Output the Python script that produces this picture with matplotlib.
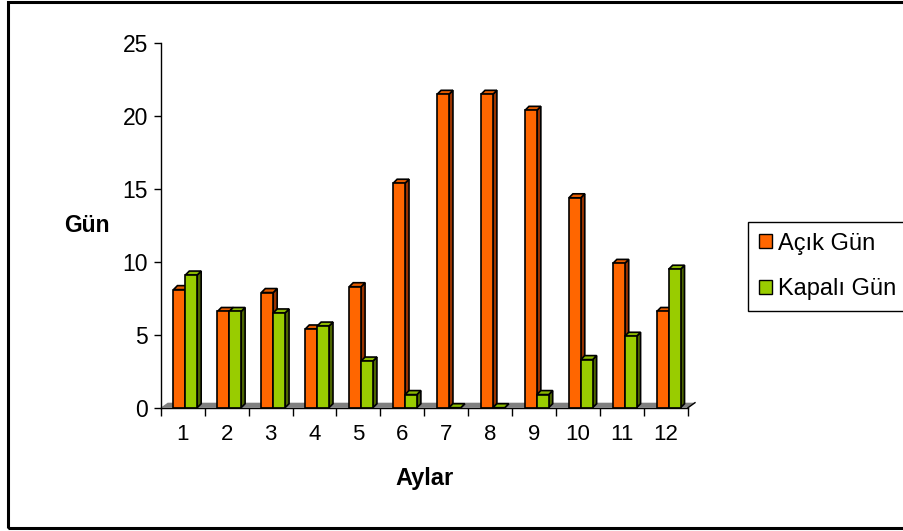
import matplotlib
matplotlib.use("Agg")
import matplotlib.pyplot as plt
from matplotlib.patches import Polygon, Rectangle, Patch
from matplotlib.lines import Line2D

months = ["1", "2", "3", "4", "5", "6", "7", "8", "9", "10", "11", "12"]
acik_gun = [8.1, 6.6, 7.9, 5.4, 8.3, 15.4, 21.5, 21.5, 20.4, 14.4, 9.9, 6.6]
kapali_gun = [9.1, 6.6, 6.5, 5.6, 3.2, 0.9, 0.0, 0.0, 0.9, 3.3, 4.9, 9.5]
y_ticks = [0, 5, 10, 15, 20, 25]
series_names = ["Açık Gün", "Kapalı Gün"]

plt.rcParams['font.family'] = ['Liberation Sans', 'DejaVu Sans']

W, H = 904, 531
fig = plt.figure(figsize=(W / 100, H / 100), dpi=100)
ax_l, ax_r, ax_t, ax_b = 160.7, 688.0, 43.3, 407.7
ax = fig.add_axes([ax_l / W, (H - ax_b) / H, (ax_r - ax_l) / W, (ax_b - ax_t) / H])
ax.set_xlim(-0.5, len(months) - 0.5)
ax.set_ylim(0, 25)

px_x = (len(months)) / (ax_r - ax_l)   # data units per pixel (x)
px_y = 25.0 / (ax_b - ax_t)            # data units per pixel (y)

front = ["#FF6600", "#99CC00"]
side = ["#993300", "#4D6600"]
top = ["#E65C00", "#8AB800"]

# floor
fdx, fdy = 7 * px_x, 5 * px_y
floor = Polygon([(-0.5, 0), (len(months) - 0.5, 0), (len(months) - 0.5 + fdx, fdy), (-0.5 + fdx, fdy)],
                closed=True, facecolor="#808080", edgecolor="none", clip_on=False, zorder=1)
ax.add_patch(floor)
ax.add_line(Line2D([len(months) - 0.5, len(months) - 0.5 + fdx], [0, fdy], color="black", lw=1, clip_on=False, zorder=1.5))

width = 0.27
offset = 0.06
bdx, bdy = 4 * px_x, 4 * px_y
for s, vals in enumerate([acik_gun, kapali_gun]):
    xs = [i + offset + (s - 0.5) * width for i in range(len(months))]
    bars = ax.bar(xs, vals, width=width, color=front[s], edgecolor="black", linewidth=1.2, zorder=3 + s * 0.5)
    for b in bars:
        x0, y0, w, h = b.get_x(), b.get_y(), b.get_width(), b.get_height()
        sp = Polygon([(x0 + w, y0), (x0 + w + bdx, y0 + bdy), (x0 + w + bdx, y0 + h + bdy), (x0 + w, y0 + h)],
                     closed=True, facecolor=side[s], edgecolor="black", linewidth=1.2, zorder=2.9 + s * 0.5, clip_on=False)
        tp = Polygon([(x0, y0 + h), (x0 + bdx, y0 + h + bdy), (x0 + w + bdx, y0 + h + bdy), (x0 + w, y0 + h)],
                     closed=True, facecolor=top[s], edgecolor="black", linewidth=1.2, zorder=2.9 + s * 0.5, clip_on=False)
        ax.add_patch(sp)
        ax.add_patch(tp)

for sname in ["top", "right"]:
    ax.spines[sname].set_visible(False)
for sname in ["left", "bottom"]:
    ax.spines[sname].set_color("black")
    ax.spines[sname].set_linewidth(1)
    ax.spines[sname].set_zorder(5)

ax.set_yticks(y_ticks)
ax.set_yticklabels([str(t) for t in y_ticks], fontsize=16.5)
ax.tick_params(axis="y", direction="out", length=5, width=1, pad=4)
ax.set_xticks(range(len(months)))
ax.set_xticklabels(months, fontsize=16)
ax.set_xticks([i - 0.5 for i in range(len(months) + 1)], minor=True)
ax.tick_params(axis="x", which="major", length=0, pad=12)
ax.tick_params(axis="x", which="minor", direction="out", length=6, width=1)

fig.text(87 / W, 1 - 225 / H, "Gün", fontsize=16.5, fontweight="bold", ha="center", va="center")
fig.text(425 / W, 1 - 478 / H, "Aylar", fontsize=17, fontweight="bold", ha="center", va="center")

handles = [Patch(facecolor=front[0], edgecolor="black", linewidth=1),
           Patch(facecolor=front[1], edgecolor="black", linewidth=1)]
leg = fig.legend(handles, series_names, loc="upper left", bbox_to_anchor=(748 / W, 1 - 222 / H),
                 fontsize=17, frameon=True, fancybox=False, edgecolor="black", framealpha=1,
                 handlelength=0.55, handleheight=0.55, handletextpad=0.25, labelspacing=1.0,
                 borderpad=0.45, borderaxespad=0)
leg.get_frame().set_linewidth(1)

fig.add_artist(Rectangle((7.5 / W, 3 / H), 1.2, (H - 4.5) / H, transform=fig.transFigure,
                         fill=False, edgecolor="black", linewidth=2.2))

fig.savefig("out.png", dpi=100)
